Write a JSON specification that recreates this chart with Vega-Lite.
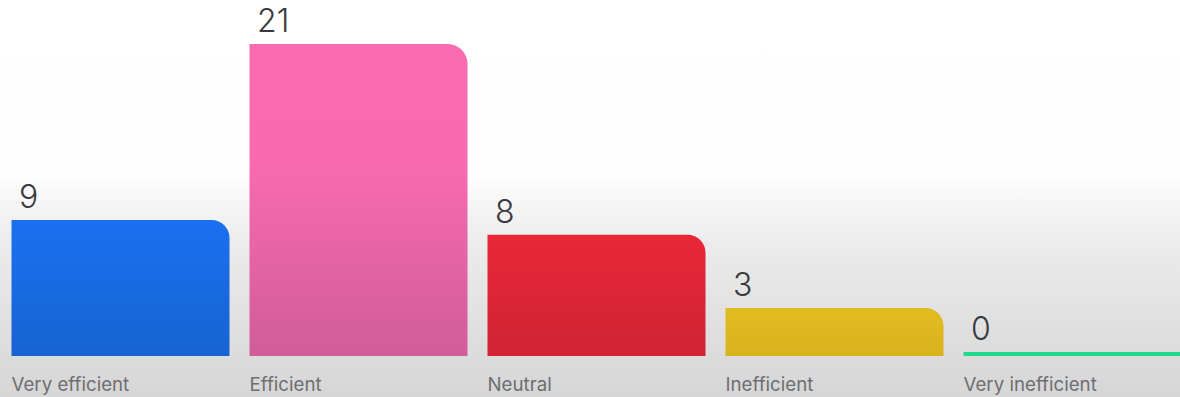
{
  "$schema": "https://vega.github.io/schema/vega-lite/v6.json",
  "width": 1180,
  "height": 397,
  "padding": 0,
  "autosize": {"type": "none"},
  "background": "#ffffff",
  "config": {
    "view": {
      "stroke": null,
      "fill": {
        "gradient": "linear", "x1": 0, "y1": 0, "x2": 0, "y2": 1,
        "stops": [
          {"offset": 0, "color": "#ffffff"},
          {"offset": 0.44, "color": "#fefefe"},
          {"offset": 0.52, "color": "#f5f5f5"},
          {"offset": 0.62, "color": "#ebebec"},
          {"offset": 0.8, "color": "#e1e1e2"},
          {"offset": 1, "color": "#d6d6d7"}
        ]
      }
    },
    "font": "Inter"
  },
  "data": {
    "values": [
      {"rating": "Very efficient", "votes": 9},
      {"rating": "Efficient", "votes": 21},
      {"rating": "Neutral", "votes": 8},
      {"rating": "Inefficient", "votes": 3},
      {"rating": "Very inefficient", "votes": 0}
    ]
  },
  "encoding": {
    "x": {
      "field": "rating",
      "type": "nominal",
      "sort": null,
      "title": null,
      "scale": {"range": [11.5, 1181.5], "paddingInner": 0.084, "paddingOuter": 0},
      "axis": {
        "orient": "bottom",
        "offset": -22,
        "domain": false,
        "ticks": false,
        "grid": false,
        "labelAngle": 0,
        "labelAlign": "left",
        "labelBaseline": "top",
        "labelOffset": -109,
        "labelPadding": 0,
        "labelFontSize": 18.7,
        "labelFont": "Inter",
        "labelColor": "#6e6e70",
        "labelFlush": false,
        "labelOverlap": false
      }
    },
    "y": {
      "field": "votes",
      "type": "quantitative",
      "title": null,
      "axis": null,
      "scale": {"domain": [0, 21], "range": [352, 44], "nice": false, "zero": false}
    }
  },
  "layer": [
    {
      "transform": [{"filter": "datum.rating === 'Very efficient'"}],
      "mark": {"type": "bar", "cornerRadiusTopRight": 18, "fill": {"gradient": "linear", "x1": 0, "y1": 0, "x2": 0, "y2": 1, "stops": [{"offset": 0, "color": "#1b70f0"}, {"offset": 1, "color": "#1763d2"}]}},
      "encoding": {"y2": {"datum": -0.27}}
    },
    {
      "transform": [{"filter": "datum.rating === 'Efficient'"}],
      "mark": {"type": "bar", "cornerRadiusTopRight": 20, "fill": {"gradient": "linear", "x1": 0, "y1": 0, "x2": 0, "y2": 1, "stops": [{"offset": 0, "color": "#fa6cb2"}, {"offset": 0.4, "color": "#f76ab0"}, {"offset": 1, "color": "#d15c9a"}]}},
      "encoding": {"y2": {"datum": -0.27}}
    },
    {
      "transform": [{"filter": "datum.rating === 'Neutral'"}],
      "mark": {"type": "bar", "cornerRadiusTopRight": 18, "fill": {"gradient": "linear", "x1": 0, "y1": 0, "x2": 0, "y2": 1, "stops": [{"offset": 0, "color": "#e82737"}, {"offset": 1, "color": "#cf2334"}]}},
      "encoding": {"y2": {"datum": -0.27}}
    },
    {
      "transform": [{"filter": "datum.rating === 'Inefficient'"}],
      "mark": {"type": "bar", "cornerRadiusTopRight": 18, "fill": {"gradient": "linear", "x1": 0, "y1": 0, "x2": 0, "y2": 1, "stops": [{"offset": 0, "color": "#e0bc20"}, {"offset": 1, "color": "#d9b31e"}]}},
      "encoding": {"y2": {"datum": -0.27}}
    },
    {
      "transform": [{"filter": "datum.rating === 'Very inefficient'"}],
      "mark": {"type": "bar", "fill": "#1edb8c"},
      "encoding": {"y2": {"datum": -0.27}}
    },
    {
      "mark": {"type": "text", "align": "left", "baseline": "alphabetic", "dx": 7.5, "dy": -12, "fontSize": 32, "font": "Inter", "fontWeight": 350, "color": "#3a3a3e"},
      "encoding": {
        "x": {"field": "rating", "type": "nominal", "sort": null, "bandPosition": 0},
        "text": {"field": "votes", "type": "quantitative"}
      }
    }
  ]
}
